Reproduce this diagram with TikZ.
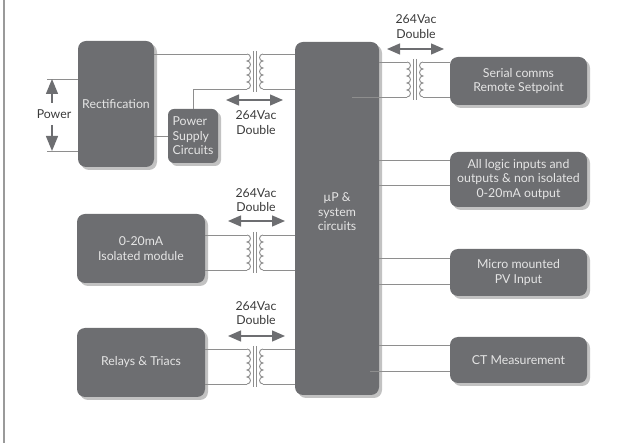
\documentclass[tikz,border=0pt]{standalone}
\usepackage{fontspec}
\setmainfont{Lato}
\usetikzlibrary{arrows.meta,shadows}
\definecolor{boxgrey}{HTML}{6D6E71}
\definecolor{shadegrey}{HTML}{C2C2C2}
\definecolor{wiregrey}{HTML}{8E8E8E}
\definecolor{inkgrey}{HTML}{3A3A3A}
\definecolor{pagegrey}{HTML}{9A9A9A}

\begin{document}
\begin{tikzpicture}[x=1pt,y=-1pt,
  block/.style={rectangle,rounded corners=8pt,fill=boxgrey,text=white!90!black,align=center,inner sep=0pt,
    font=\fontsize{12.3}{14.5}\selectfont,
    drop shadow={shadow xshift=3pt,shadow yshift=-3pt,fill=shadegrey,opacity=1}},
  wire/.style={draw=wiregrey,line width=0.9pt},
  dbl/.style={draw=boxgrey,line width=1.3pt,{Triangle[length=13pt,width=11pt]}-{Triangle[length=13pt,width=11pt]}},
  sgl/.style={draw=boxgrey,line width=1.3pt,-{Triangle[length=15pt,width=12pt]}},
  volt/.style={text=inkgrey,align=center,font=\fontsize{12.3}{14.5}\selectfont},
  xfmr/.pic={
    \draw[wire] (-8,0) arc[start angle=-90,end angle=90,radius=3.5] arc[start angle=-90,end angle=90,radius=3.5]
      arc[start angle=-90,end angle=90,radius=3.5] arc[start angle=-90,end angle=90,radius=3.5]
      arc[start angle=-90,end angle=90,radius=3.5];
    \draw[wire] (8,0) arc[start angle=-90,end angle=-270,radius=3.5] arc[start angle=-90,end angle=-270,radius=3.5]
      arc[start angle=-90,end angle=-270,radius=3.5] arc[start angle=-90,end angle=-270,radius=3.5]
      arc[start angle=-90,end angle=-270,radius=3.5];
    \draw[wire] (-1.5,-3) -- (-1.5,38) (1.5,-3) -- (1.5,38);
    \coordinate (-pa) at (-8,0); \coordinate (-pb) at (-8,35);
    \coordinate (-sa) at (8,0);  \coordinate (-sb) at (8,35);
  }]

\useasboundingbox (0,0) rectangle (640,443);
\draw[pagegrey,line width=2pt] (4,0) -- (4,443);

\node[block,minimum width=76,minimum height=126] (rect) at (116,104) {Rectification};
\node[block,rounded corners=6pt,minimum width=50,minimum height=54,align=left] (psc) at (193,136) {Power\\Supply\\Circuits};
\node[block,minimum width=84,minimum height=353] (up) at (337,218.5) {};
\node[text=white!90!black,align=center,font=\fontsize{12.3}{14.5}\selectfont] (uplbl) at (337,212) {µP \&\\system\\circuits};
\node[block,minimum width=137,minimum height=48] (serial) at (518.5,81) {Serial comms\\Remote Setpoint};
\node[block,minimum width=137,minimum height=55] (logic) at (518.5,179.5) {All logic inputs and\\outputs \& non isolated\\0-20mA output};
\node[block,minimum width=137,minimum height=47] (micro) at (518.5,272.5) {Micro mounted\\PV Input};
\node[block,minimum width=137,minimum height=46] (ct) at (518.5,360) {CT Measurement};
\node[block,minimum width=128,minimum height=69] (iso) at (141,248.5) {0-20mA\\Isolated module};
\node[block,minimum width=128,minimum height=69] (relay) at (141,362.5) {Relays \& Triacs};

% power input
\node[volt] (pwr) at (54,114) {Power};
\coordinate (p1) at (47,79); \coordinate (p2) at (47,151);
\coordinate (pu) at (52,103); \coordinate (pd) at (52,125);
\draw[wire] (p1) -- (p1 -| rect.west) (p2) -- (p2 -| rect.west);
\draw[sgl] (pu) -- (pu |- p1);
\draw[sgl] (pd) -- (pd |- p2);

% isolation transformers
\pic (t1) at (255,54) {xfmr};
\pic (t2) at (255,235) {xfmr};
\pic (t3) at (255,349) {xfmr};
\pic (t4) at (415,62) {xfmr};

\draw[wire] (rect.east |- t1-pa) -- (t1-pa);
\draw[wire] (psc.north) |- (t1-pb);
\draw[wire] (rect.east |- psc) -- (psc.west);
\draw[wire] (t1-sa) -- (t1-sa -| up.west) (t1-sb) -- (t1-sb -| up.west);

\draw[wire] (iso.east |- t2-pa) -- (t2-pa) (iso.east |- t2-pb) -- (t2-pb);
\draw[wire] (t2-sa) -- (t2-sa -| up.west) (t2-sb) -- (t2-sb -| up.west);

\draw[wire] (relay.east |- t3-pa) -- (t3-pa) (relay.east |- t3-pb) -- (t3-pb);
\draw[wire] (t3-sa) -- (t3-sa -| up.west) (t3-sb) -- (t3-sb -| up.west);

\coordinate (upin) at (352,97);
\draw[wire] (up.east |- t4-pa) -- (t4-pa) (upin) -- (t4-pb);
\draw[wire] (t4-sa) -- (t4-sa -| serial.west) (t4-sb) -- (t4-sb -| serial.west);

% direct links
\coordinate (lg1) at (450,160); \coordinate (lg2) at (450,185);
\coordinate (mc1) at (450,258); \coordinate (mc2) at (450,284);
\coordinate (ct1) at (450,345); \coordinate (ctin) at (370,371);
\draw[wire] (lg1) -- (lg1 -| up.east) (lg2) -- (lg2 -| up.east);
\draw[wire] (mc1) -- (mc1 -| up.east) (mc2) -- (mc2 -| up.east);
\draw[wire] (ct1) -- (ct1 -| up.east) (ctin) -- (ctin -| ct.west);

% barrier ratings
\coordinate (a1) at (226,100); \coordinate (b1) at (283,100);
\coordinate (a2) at (228,221); \coordinate (b2) at (285,221);
\coordinate (a3) at (228,336); \coordinate (b3) at (285,336);
\coordinate (a4) at (387,49);  \coordinate (b4) at (444,49);
\draw[dbl] (a1) -- (b1);
\draw[dbl] (a2) -- (b2);
\draw[dbl] (a3) -- (b3);
\draw[dbl] (a4) -- (b4);
\node[volt] (v1) at (256,122.5) {264Vac\\Double};
\node[volt] (v2) at (256,200) {264Vac\\Double};
\node[volt] (v3) at (256,313) {264Vac\\Double};
\node[volt] (v4) at (416,26.5) {264Vac\\Double};
\end{tikzpicture}
\end{document}
